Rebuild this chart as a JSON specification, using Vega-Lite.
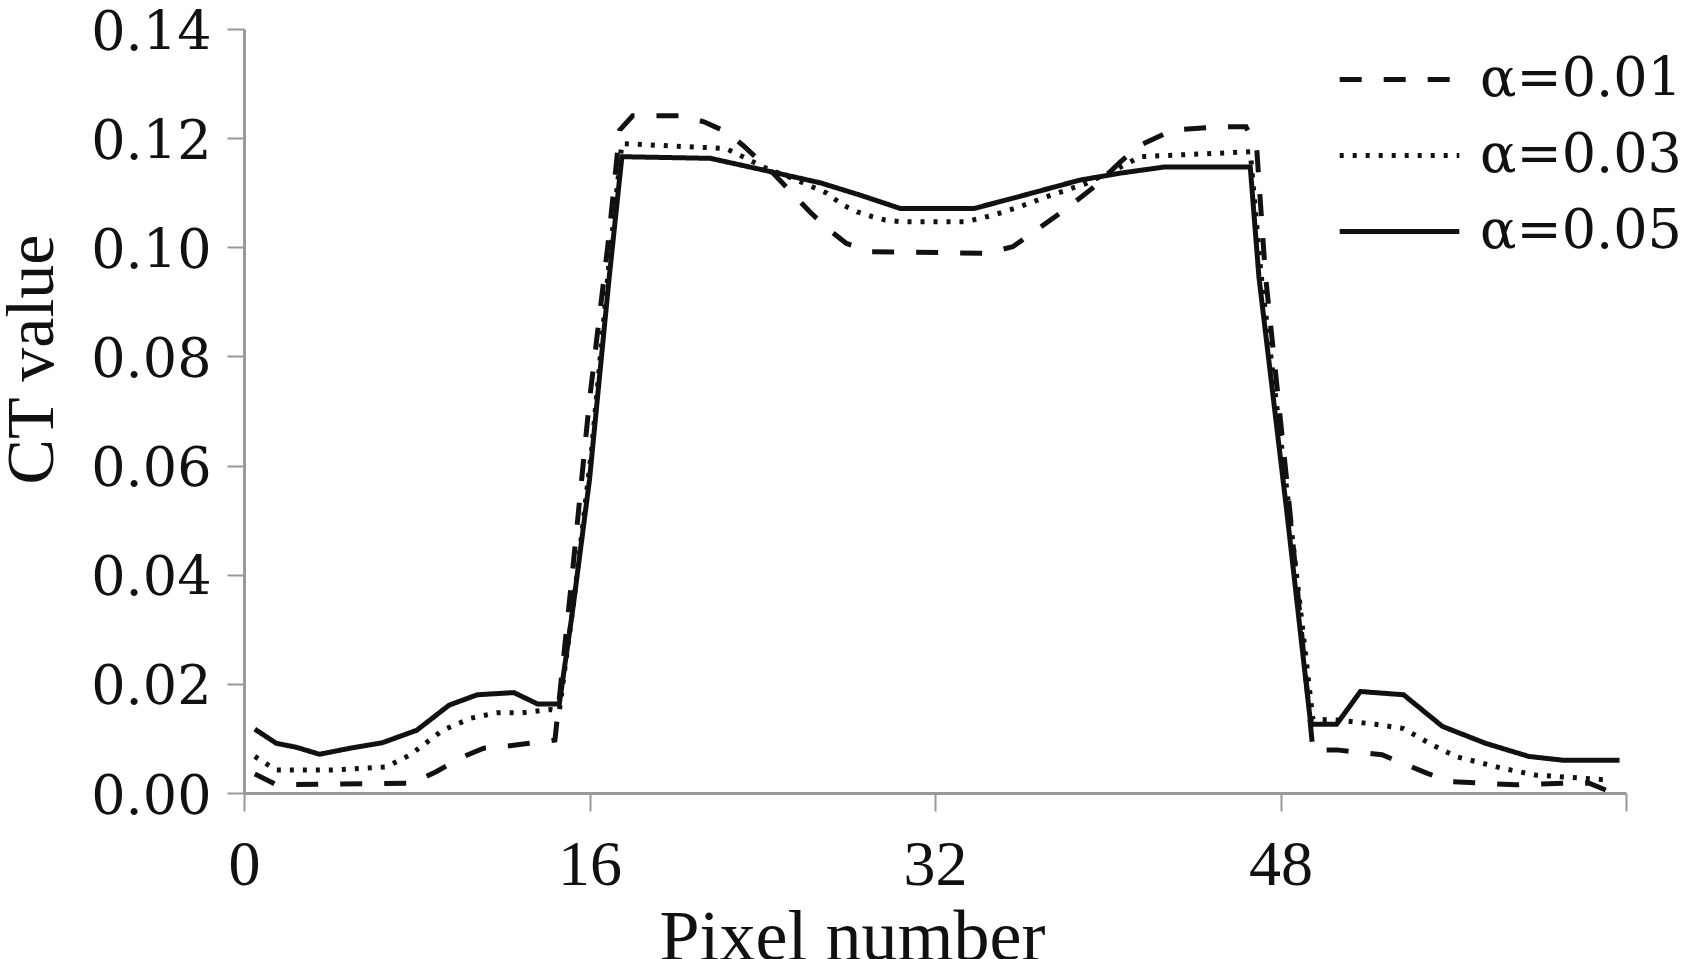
{
  "$schema": "https://vega.github.io/schema/vega-lite/v6.json",
  "width": 1382,
  "height": 764,
  "autosize": {"type": "none"},
  "padding": {"left": 244, "top": 29, "right": 55, "bottom": 166},
  "background": "white",
  "config": {"view": {"stroke": null}},
  "data": {"values": [
    {"s":"α=0.05","x":0.5,"y":0.0117},{"s":"α=0.05","x":1.5,"y":0.0091},{"s":"α=0.05","x":2.4,"y":0.0084},{"s":"α=0.05","x":3.5,"y":0.0071},{"s":"α=0.05","x":4.9,"y":0.0082},{"s":"α=0.05","x":6.4,"y":0.0092},{"s":"α=0.05","x":8.0,"y":0.0115},{"s":"α=0.05","x":9.5,"y":0.0161},{"s":"α=0.05","x":10.8,"y":0.0180},{"s":"α=0.05","x":12.5,"y":0.0184},{"s":"α=0.05","x":13.6,"y":0.0163},{"s":"α=0.05","x":14.6,"y":0.0163},{"s":"α=0.05","x":15.2,"y":0.0329},{"s":"α=0.05","x":16.0,"y":0.0574},{"s":"α=0.05","x":16.9,"y":0.0940},{"s":"α=0.05","x":17.5,"y":0.1166},{"s":"α=0.05","x":21.6,"y":0.1163},{"s":"α=0.05","x":24.0,"y":0.1142},{"s":"α=0.05","x":26.7,"y":0.1118},{"s":"α=0.05","x":28.5,"y":0.1096},{"s":"α=0.05","x":30.4,"y":0.1071},{"s":"α=0.05","x":33.8,"y":0.1071},{"s":"α=0.05","x":35.9,"y":0.1093},{"s":"α=0.05","x":38.7,"y":0.1123},{"s":"α=0.05","x":40.6,"y":0.1136},{"s":"α=0.05","x":42.6,"y":0.1147},{"s":"α=0.05","x":46.6,"y":0.1147},{"s":"α=0.05","x":47.0,"y":0.0946},{"s":"α=0.05","x":48.3,"y":0.0513},{"s":"α=0.05","x":49.4,"y":0.0126},{"s":"α=0.05","x":50.6,"y":0.0126},{"s":"α=0.05","x":51.7,"y":0.0186},{"s":"α=0.05","x":53.7,"y":0.0180},{"s":"α=0.05","x":55.5,"y":0.0122},{"s":"α=0.05","x":57.5,"y":0.0091},{"s":"α=0.05","x":59.5,"y":0.0067},{"s":"α=0.05","x":61.1,"y":0.0060},{"s":"α=0.05","x":63.7,"y":0.0060},

    {"s":"α=0.03","x":0.5,"y":0.0067},{"s":"α=0.03","x":1.5,"y":0.0042},{"s":"α=0.03","x":4.0,"y":0.0042},{"s":"α=0.03","x":6.6,"y":0.0048},{"s":"α=0.03","x":7.7,"y":0.0070},{"s":"α=0.03","x":9.2,"y":0.0115},{"s":"α=0.03","x":10.5,"y":0.0137},{"s":"α=0.03","x":11.7,"y":0.0147},{"s":"α=0.03","x":12.9,"y":0.0147},{"s":"α=0.03","x":14.2,"y":0.0153},{"s":"α=0.03","x":14.6,"y":0.0150},{"s":"α=0.03","x":15.3,"y":0.036},{"s":"α=0.03","x":16.1,"y":0.063},{"s":"α=0.03","x":16.9,"y":0.097},{"s":"α=0.03","x":17.5,"y":0.1190},{"s":"α=0.03","x":22.3,"y":0.1181},{"s":"α=0.03","x":22.8,"y":0.1172},{"s":"α=0.03","x":24.0,"y":0.1148},{"s":"α=0.03","x":25.6,"y":0.1123},{"s":"α=0.03","x":27.0,"y":0.1099},{"s":"α=0.03","x":27.7,"y":0.1078},{"s":"α=0.03","x":28.4,"y":0.1065},{"s":"α=0.03","x":29.1,"y":0.1056},{"s":"α=0.03","x":29.7,"y":0.1050},{"s":"α=0.03","x":30.4,"y":0.1047},{"s":"α=0.03","x":33.4,"y":0.1047},{"s":"α=0.03","x":34.1,"y":0.1053},{"s":"α=0.03","x":34.7,"y":0.1059},{"s":"α=0.03","x":35.9,"y":0.1074},{"s":"α=0.03","x":37.2,"y":0.1093},{"s":"α=0.03","x":39.0,"y":0.1117},{"s":"α=0.03","x":40.5,"y":0.1145},{"s":"α=0.03","x":41.5,"y":0.1166},{"s":"α=0.03","x":46.6,"y":0.1175},{"s":"α=0.03","x":47.1,"y":0.095},{"s":"α=0.03","x":48.4,"y":0.052},{"s":"α=0.03","x":49.5,"y":0.0135},{"s":"α=0.03","x":50.6,"y":0.0134},{"s":"α=0.03","x":52.4,"y":0.0126},{"s":"α=0.03","x":53.7,"y":0.0118},{"s":"α=0.03","x":54.9,"y":0.0091},{"s":"α=0.03","x":56.1,"y":0.0067},{"s":"α=0.03","x":58.3,"y":0.0045},{"s":"α=0.03","x":59.8,"y":0.0033},{"s":"α=0.03","x":63.1,"y":0.0024},

    {"s":"α=0.01","x":0.5,"y":0.0035},{"s":"α=0.01","x":1.5,"y":0.0015},{"s":"α=0.01","x":7.8,"y":0.0018},{"s":"α=0.01","x":8.9,"y":0.0039},{"s":"α=0.01","x":10.0,"y":0.0064},{"s":"α=0.01","x":11.1,"y":0.0082},{"s":"α=0.01","x":12.0,"y":0.0085},{"s":"α=0.01","x":13.2,"y":0.0091},{"s":"α=0.01","x":14.4,"y":0.0097},{"s":"α=0.01","x":15.2,"y":0.040},{"s":"α=0.01","x":16.0,"y":0.072},{"s":"α=0.01","x":16.9,"y":0.102},{"s":"α=0.01","x":17.4,"y":0.1215},{"s":"α=0.01","x":18.0,"y":0.1241},{"s":"α=0.01","x":20.2,"y":0.1241},{"s":"α=0.01","x":21.3,"y":0.1230},{"s":"α=0.01","x":22.3,"y":0.1212},{"s":"α=0.01","x":23.1,"y":0.1187},{"s":"α=0.01","x":24.4,"y":0.1140},{"s":"α=0.01","x":25.6,"y":0.1090},{"s":"α=0.01","x":26.2,"y":0.1065},{"s":"α=0.01","x":27.1,"y":0.1032},{"s":"α=0.01","x":27.9,"y":0.1007},{"s":"α=0.01","x":29.0,"y":0.0992},{"s":"α=0.01","x":34.4,"y":0.0989},{"s":"α=0.01","x":35.6,"y":0.1001},{"s":"α=0.01","x":36.5,"y":0.1026},{"s":"α=0.01","x":38.2,"y":0.1074},{"s":"α=0.01","x":39.5,"y":0.1115},{"s":"α=0.01","x":40.6,"y":0.1157},{"s":"α=0.01","x":41.5,"y":0.1187},{"s":"α=0.01","x":43.0,"y":0.1215},{"s":"α=0.01","x":45.2,"y":0.1221},{"s":"α=0.01","x":46.4,"y":0.1221},{"s":"α=0.01","x":46.9,"y":0.1180},{"s":"α=0.01","x":47.3,"y":0.095},{"s":"α=0.01","x":48.4,"y":0.053},{"s":"α=0.01","x":49.5,"y":0.0079},{"s":"α=0.01","x":50.6,"y":0.0079},{"s":"α=0.01","x":52.7,"y":0.0070},{"s":"α=0.01","x":54.8,"y":0.0036},{"s":"α=0.01","x":55.8,"y":0.0021},{"s":"α=0.01","x":58.9,"y":0.0015},{"s":"α=0.01","x":61.1,"y":0.0018},{"s":"α=0.01","x":62.3,"y":0.0018},{"s":"α=0.01","x":63.4,"y":0.0}
  ]},
  "mark": {"type": "line", "color": "#111111", "strokeWidth": 5, "strokeCap": "butt", "clip": false},
  "encoding": {
    "x": {
      "field": "x", "type": "quantitative",
      "scale": {"domain": [0, 64], "nice": false, "zero": false},
      "axis": {
        "values": [0, 16, 32, 48, 64],
        "labelExpr": "datum.value == 64 ? '' : datum.label",
        "grid": false,
        "domainColor": "#999999", "domainWidth": 3,
        "tickColor": "#999999", "tickWidth": 2, "tickSize": 18,
        "labelFont": "Liberation Serif", "labelFontSize": 64, "labelColor": "#111111",
        "labelPadding": 22, "labelFlush": false, "labelOverlap": false,
        "title": "Pixel number",
        "titleFont": "Liberation Serif", "titleFontSize": 72, "titleFontWeight": "normal", "titleColor": "#111111",
        "titleX": 608, "titleY": 166, "titleAlign": "center", "titleBaseline": "alphabetic", "titleAnchor": null
      }
    },
    "y": {
      "field": "y", "type": "quantitative",
      "scale": {"domain": [0, 0.14], "nice": false},
      "axis": {
        "values": [0, 0.02, 0.04, 0.06, 0.08, 0.1, 0.12, 0.14],
        "format": ".2f",
        "grid": false,
        "domainColor": "#999999", "domainWidth": 3,
        "tickColor": "#999999", "tickWidth": 2, "tickSize": 17,
        "labelFont": "DejaVu Serif", "labelFontSize": 54, "labelColor": "#111111",
        "labelPadding": 16, "labelOffset": 4, "labelFlush": false, "labelOverlap": false,
        "title": "CT value",
        "titleFont": "Liberation Serif", "titleFontSize": 68, "titleFontWeight": "normal", "titleColor": "#111111",
        "titleX": -192, "titleY": 330, "titleAngle": 270, "titleAlign": "center", "titleBaseline": "alphabetic", "titleAnchor": null
      }
    },
    "strokeDash": {
      "field": "s", "type": "nominal",
      "scale": {"domain": ["α=0.01", "α=0.03", "α=0.05"], "range": [[22, 22], [4, 9], [1, 0]]},
      "legend": {
        "orient": "none", "legendX": 1107, "legendY": 2,
        "title": null, "padding": 0, "rowPadding": 0,
        "symbolType": "M-1.3,0H1.3", "symbolSize": 8464, "symbolStrokeWidth": 5,
        "symbolStrokeColor": "#111111", "symbolFillColor": "transparent",
        "labelFont": "DejaVu Serif", "labelFontSize": 54, "labelColor": "#111111",
        "labelOffset": 32, "labelLimit": 400
      }
    }
  }
}
